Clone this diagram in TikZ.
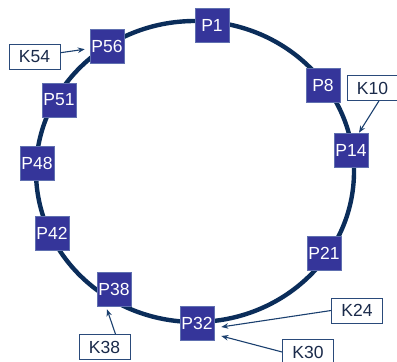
\documentclass[tikz,border=0pt]{standalone}
\usepackage{fontspec}
\setmainfont{Liberation Sans}
\usetikzlibrary{arrows.meta}
\definecolor{ring}{HTML}{0B2D5A}
\definecolor{pfill}{HTML}{35359A}
\definecolor{pborder}{HTML}{6070B0}
\definecolor{kborder}{HTML}{2A4A7A}
\definecolor{ktext}{HTML}{1A2A4A}
\definecolor{arrc}{HTML}{1A3F6E}
\tikzset{
  pbox/.style={draw=pborder, line width=0.6pt, fill=pfill, text=white,
    minimum width=34pt, minimum height=34pt, inner sep=0pt,
    font=\fontsize{17.5}{19}\selectfont},
  kbox/.style={draw=kborder, line width=0.7pt, fill=white, text=ktext,
    minimum width=51pt, minimum height=25pt, inner sep=0pt,
    font=\fontsize{17.5}{19}\selectfont},
  arr/.style={draw=arrc, line width=1.1pt, -{Stealth[length=7pt,width=5.5pt]}}
}
\begin{document}
\begin{tikzpicture}[x=1pt,y=1pt]
\useasboundingbox (0,0) rectangle (397,362);
\draw[ring, line width=4.4pt] (195,190.5) ellipse [x radius=159, y radius=150.5];
\node[pbox] (p1)  at (212,337) {P1};
\node[pbox] (p8)  at (323,277) {P8};
\node[pbox] (p14) at (351,212) {P14};
\node[pbox] (p21) at (324,109) {P21};
\node[pbox] (p32) at (197,39)  {P32};
\node[pbox] (p38) at (114,73)  {P38};
\node[pbox] (p42) at (52,129)  {P42};
\node[pbox] (p48) at (37,199)  {P48};
\node[pbox] (p51) at (59,262)  {P51};
\node[pbox] (p56) at (107,316) {P56};
\node[kbox] (k54) at (34.5,305.5) {K54};
\node[kbox] (k10) at (372.5,274) {K10};
\node[kbox] (k38) at (104.5,15) {K38};
\node[kbox] (k24) at (357,51.5) {K24};
\node[kbox] (k30) at (308,10) {K30};
\draw[arr, shorten >=5pt] (k54) -- (p56);
\draw[arr] ([xshift=6.5pt]k10.south) -- ([xshift=8pt]p14.north);
\draw[arr] ([xshift=11pt]k38.north) -- ([xshift=-7pt,yshift=-3pt]p38.south);
\draw[arr] (k24.west) -- ([xshift=7pt,yshift=-4pt]p32.east);
\draw[arr] (k30.west) -- ([xshift=7pt,yshift=-13pt]p32.east);
\end{tikzpicture}
\end{document}
